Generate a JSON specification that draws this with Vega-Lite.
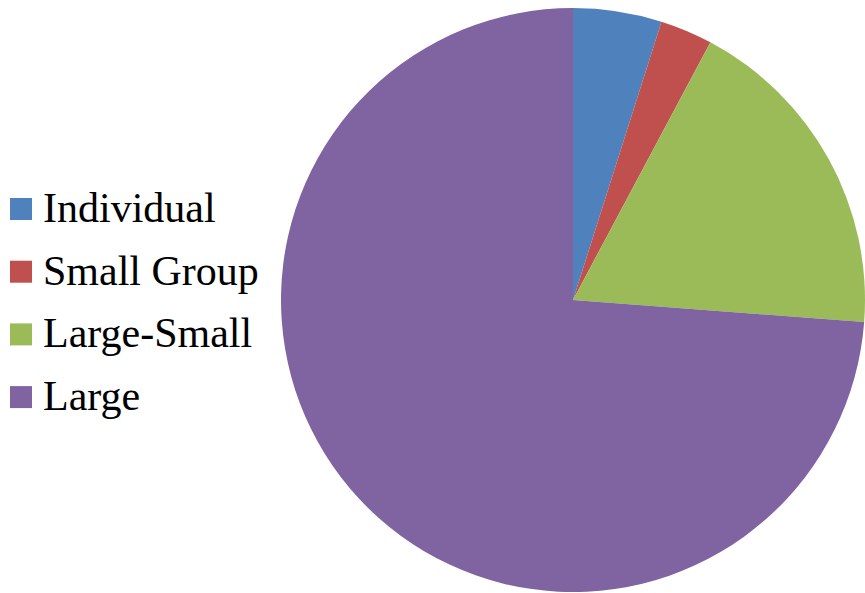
{
  "$schema": "https://vega.github.io/schema/vega-lite/v6.json",
  "width": 584,
  "height": 584,
  "autosize": {"type": "none"},
  "padding": {"left": 281, "top": 8, "right": 0, "bottom": 1},
  "background": "white",
  "config": {"view": {"stroke": null}},
  "data": {
    "values": [
      {"category": "Individual", "value": 4.9, "order": 1},
      {"category": "Small Group", "value": 2.9, "order": 2},
      {"category": "Large-Small", "value": 18.4, "order": 3},
      {"category": "Large", "value": 73.8, "order": 4}
    ]
  },
  "mark": {"type": "arc", "stroke": null, "strokeWidth": 0},
  "encoding": {
    "theta": {"field": "value", "type": "quantitative", "stack": true},
    "order": {"field": "order", "type": "quantitative"},
    "color": {
      "field": "category",
      "type": "nominal",
      "scale": {
        "domain": ["Individual", "Small Group", "Large-Small", "Large"],
        "range": ["#4F81BD", "#C0504D", "#9BBB59", "#8064A2"]
      },
      "legend": {
        "title": null,
        "orient": "none",
        "legendX": -281,
        "legendY": 180,
        "symbolType": "square",
        "symbolSize": 484,
        "symbolStrokeWidth": 0,
        "labelFont": "Liberation Serif",
        "labelFontSize": 42,
        "labelColor": "black",
        "labelOffset": 1,
        "labelLimit": 400,
        "rowPadding": 20.7
      }
    }
  }
}
